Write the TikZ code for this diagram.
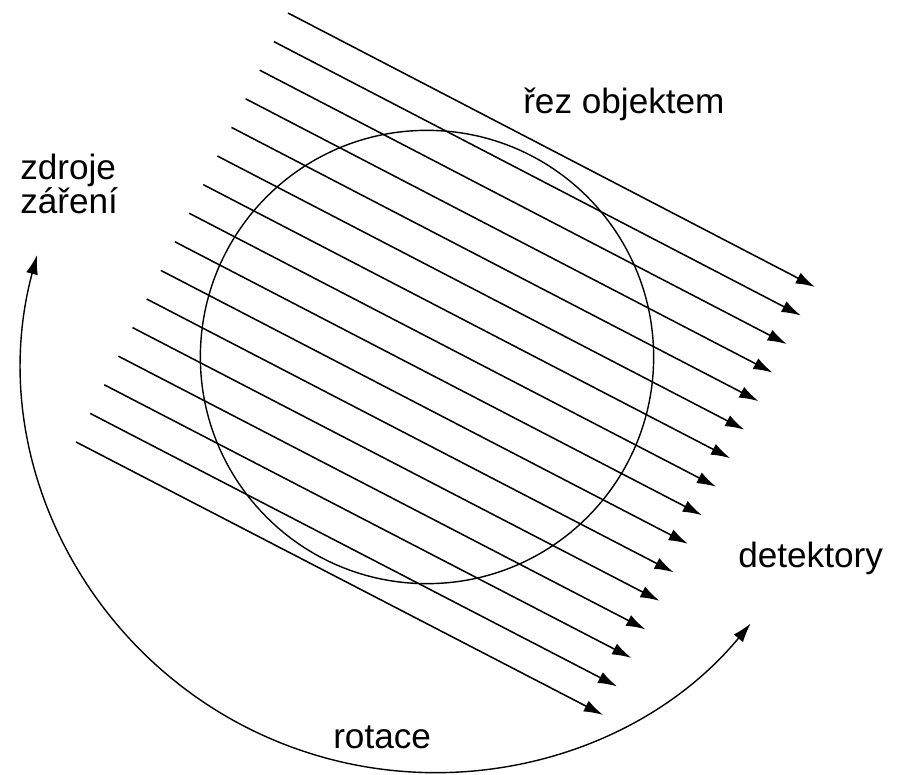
\documentclass[tikz,border=0pt]{standalone}
\usepackage{fontspec}
\setmainfont{Liberation Sans}
\usetikzlibrary{arrows.meta,calc}
\tikzset{
  ray/.style={-{Latex[length=4.8mm,width=3mm]}, line width=1.1pt, draw=black},
  slice/.style={draw=black, line width=1pt, circle, inner sep=0pt},
  turn/.style={{Latex[length=4.8mm,width=3mm]}-{Latex[length=4.8mm,width=3mm]}, line width=1pt, draw=black},
  caption/.style={font=\fontsize{25}{24}\selectfont, inner sep=0pt, align=left}
}
\begin{document}
\begin{tikzpicture}[x=0.025cm,y=-0.025cm]
\useasboundingbox (0,0) rectangle (903,775);
% parallel rays, source -> detector
\foreach \i in {0,...,15}{
  \coordinate (src\i) at (288-14.13*\i,13+28.6*\i);
  \coordinate (det\i) at (815-14.13*\i,287+28.53*\i);
  \draw[ray] (src\i) -- (det\i);
}
% object slice
\node[slice, minimum size=11.33cm] (object) at (427,357) {};
% rotation
\coordinate (pivot) at (434,361.5);
\draw[turn] ([shift={(195:411)}]pivot) arc[start angle=195,end angle=39.6,radius=411];

\node[caption, anchor=base west] (cut) at (523,114) {řez objektem};
\node[caption, anchor=base west] (sources) at (20,213) {zdroje\\záření};
\node[caption, anchor=base west] (detectors) at (738,567) {detektory};
\node[caption, anchor=base west] (rotation) at (333,748) {rotace};
\end{tikzpicture}
\end{document}
